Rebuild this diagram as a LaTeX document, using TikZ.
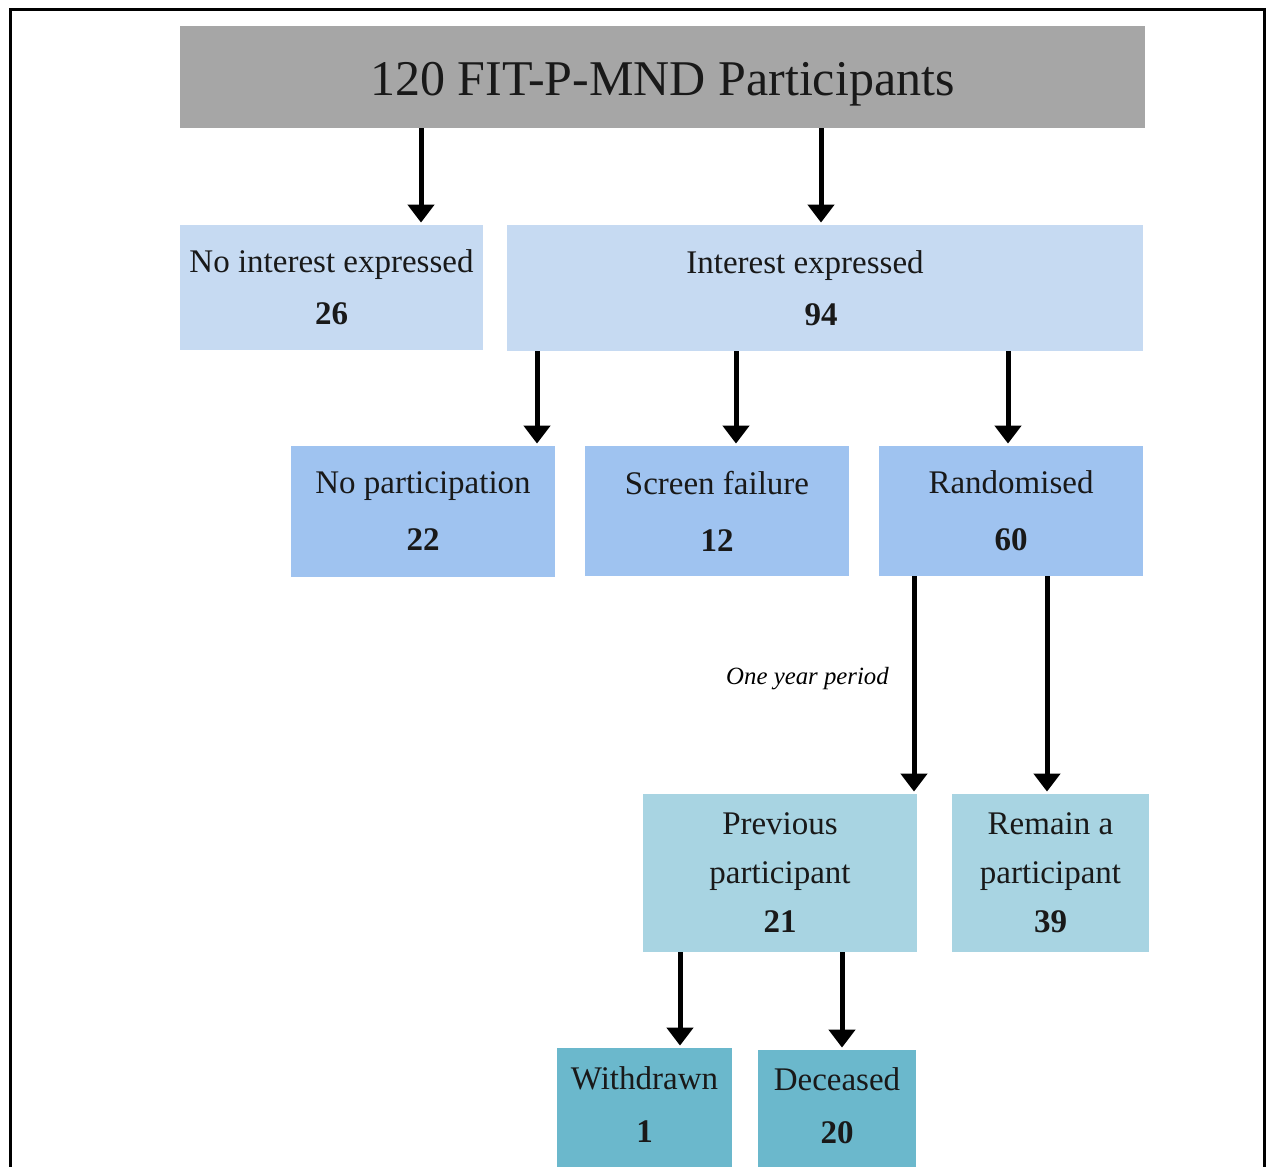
\documentclass[tikz,border=0pt]{standalone}
\usepackage{fontspec}
\setmainfont{Liberation Serif}
\usetikzlibrary{arrows.meta}
\definecolor{cgray}{HTML}{A6A6A6}
\definecolor{cone}{HTML}{C6DAF2}
\definecolor{ctwo}{HTML}{9FC3F0}
\definecolor{cthree}{HTML}{A8D4E2}
\definecolor{cfour}{HTML}{6BB8CC}
\tikzset{
  box/.style={rectangle, inner sep=0pt, align=center, text=black!90},
  rowone/.style={box, fill=cone, font=\fontsize{16.5}{26}\selectfont},
  rowtwo/.style={box, fill=ctwo, font=\fontsize{16.5}{28.5}\selectfont},
  rowthree/.style={box, fill=cthree, font=\fontsize{16.5}{24.5}\selectfont},
  rowfour/.style={box, fill=cfour, font=\fontsize{16.5}{26.5}\selectfont},
  arr/.style={line width=2.5pt, -{Triangle[width=13pt,length=9pt]}, shorten >=1pt}
}
\begin{document}
\begin{tikzpicture}[x=0.5pt,y=-0.5pt]
\useasboundingbox (0,0) rectangle (1266,1167);
\clip (0,0) rectangle (1266,1167);
\fill[white] (0,0) rectangle (1266,1167);
\draw[line width=1.5pt] (10,1190) -- (10,9) -- (1264,9) -- (1264,1190);

\node[box, fill=cgray, minimum width=482.5pt, minimum height=51pt,
      font=\fontsize{25}{28}\selectfont] (top) at (662.5,77)
  {\raisebox{-3pt}[17.5pt][5.4pt]{120 FIT-P-MND Participants}};

\node[rowone, minimum width=151.5pt, minimum height=62.5pt] (noint) at (331.5,287.5)
  {No interest expressed\\\textbf{26}};
\node[rowone, minimum width=318pt, minimum height=63pt] (int) at (825,288)
  {Interest expressed\hspace*{20pt}\\\textbf{94}\hspace*{4pt}};

\node[rowtwo, minimum width=132pt, minimum height=65.5pt] (nopart) at (423,511.5)
  {No participation\\\textbf{22}};
\node[rowtwo, minimum width=132pt, minimum height=65pt] (screen) at (717,511)
  {Screen failure\\\textbf{12}};
\node[rowtwo, minimum width=132pt, minimum height=65pt] (rand) at (1011,511)
  {Randomised\\\textbf{60}};

\node[rowthree, minimum width=137pt, minimum height=79pt] (prev) at (780,873)
  {Previous\\participant\\\textbf{21}};
\node[rowthree, minimum width=98.5pt, minimum height=79pt] (remain) at (1050.5,873)
  {Remain a\\participant\\\textbf{39}};

\node[rowfour, minimum width=87.5pt, minimum height=56.5pt] (wd) at (644.5,1104.5)
  {Withdrawn\\\textbf{1}};
\node[rowfour, minimum width=79pt, minimum height=55.5pt] (dec) at (837,1105.5)
  {Deceased\\\textbf{20}};
\fill[cfour] (wd.south west) rectangle ([yshift=-8pt]wd.south east);
\fill[cfour] (dec.south west) rectangle ([yshift=-8pt]dec.south east);

\node[font=\itshape\fontsize{12.4}{14}\selectfont] (period) at (807.5,679) {One year period};

\coordinate (xa) at (421,0);
\coordinate (xb) at (821,0);
\coordinate (xc) at (537,0);
\coordinate (xd) at (736,0);
\coordinate (xe) at (1008,0);
\coordinate (xf) at (914,0);
\coordinate (xg) at (1047,0);
\coordinate (xh) at (680,0);
\coordinate (xi) at (842,0);

\draw[arr] (top.south -| xa) -- (noint.north -| xa);
\draw[arr] (top.south -| xb) -- (int.north -| xb);
\draw[arr] (int.south -| xc) -- (nopart.north -| xc);
\draw[arr] (int.south -| xd) -- (screen.north -| xd);
\draw[arr] (int.south -| xe) -- (rand.north -| xe);
\draw[arr] (rand.south -| xf) -- (prev.north -| xf);
\draw[arr] (rand.south -| xg) -- (remain.north -| xg);
\draw[arr] (prev.south -| xh) -- (wd.north -| xh);
\draw[arr] (prev.south -| xi) -- (dec.north -| xi);
\end{tikzpicture}
\end{document}
